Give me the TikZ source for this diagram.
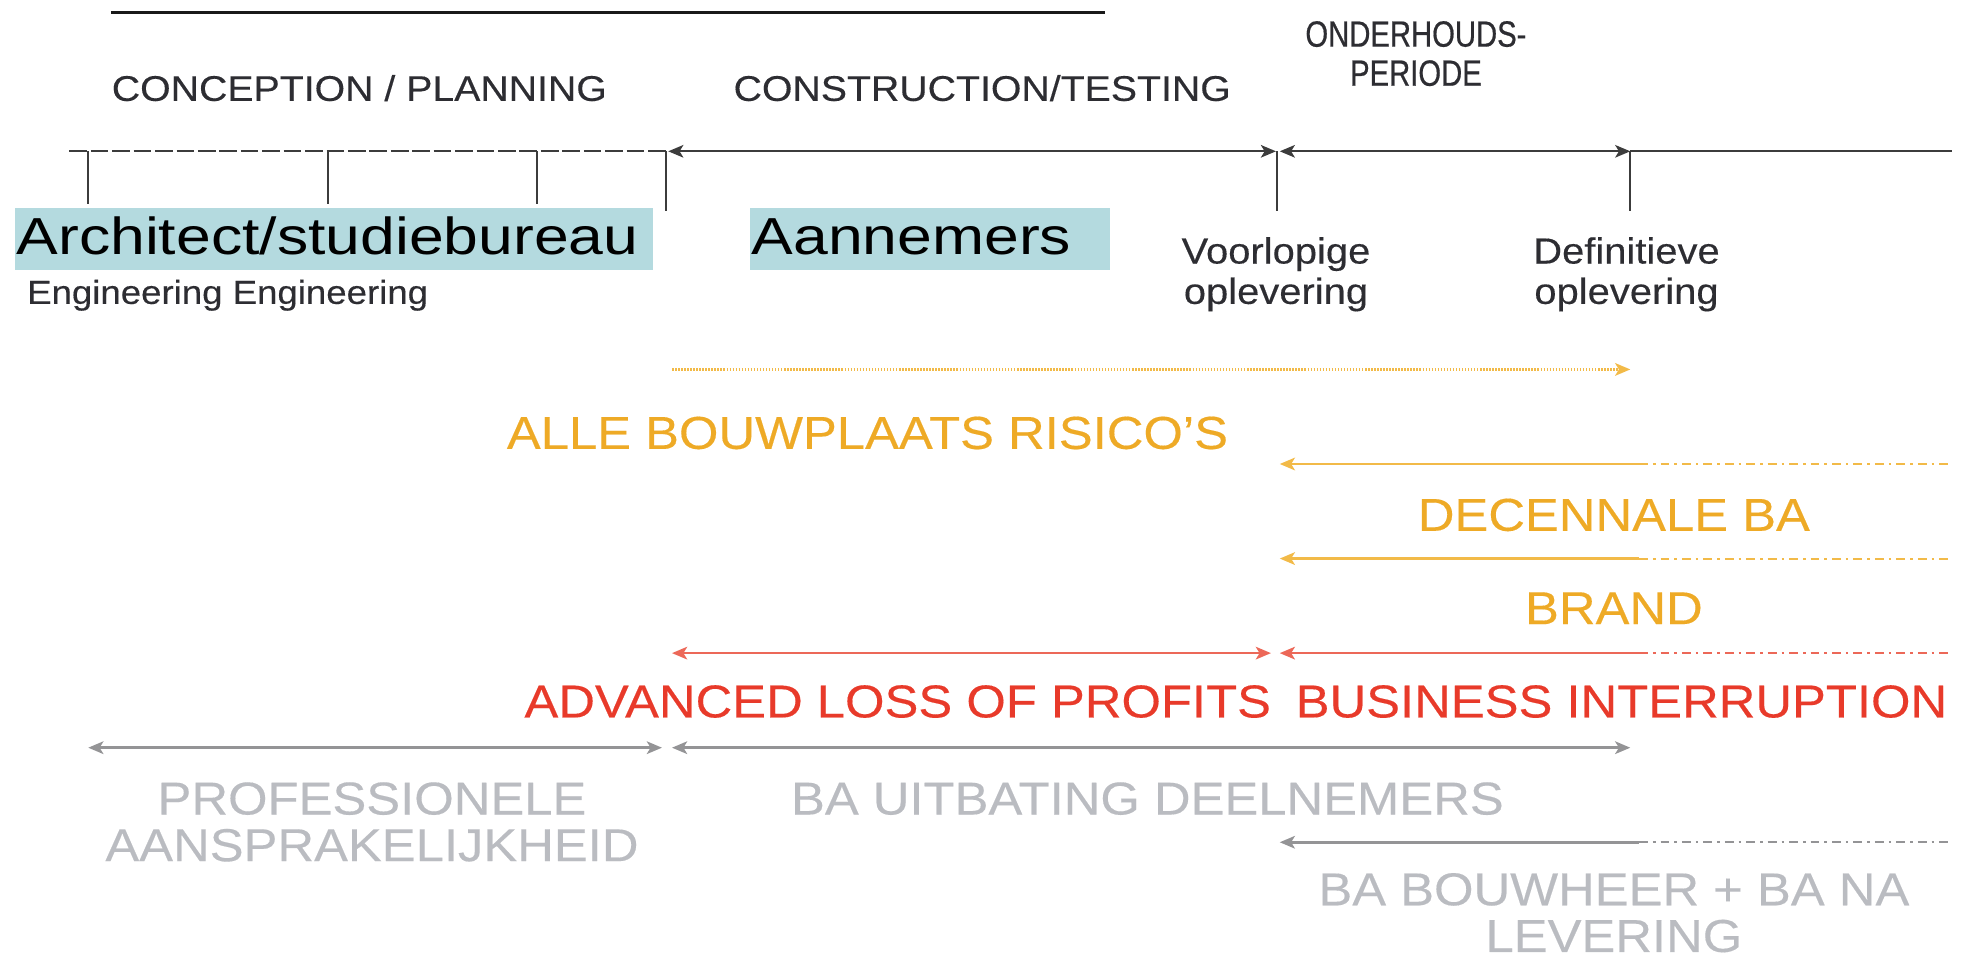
\documentclass[tikz,border=0pt]{standalone}
\usepackage{fontspec}
\setmainfont{Liberation Sans}
\newfontfamily\widefont{Liberation Sans}[FakeStretch=1.2]
\newfontfamily\labelfont{Liberation Sans}[FakeStretch=1.1, FakeBold=0.3]
\newfontfamily\periodfont{Liberation Sans}[FakeStretch=0.8, FakeBold=0.5]
\usetikzlibrary{arrows.meta}
\usetikzlibrary{positioning}

\definecolor{ruleblack}{RGB}{25,25,25}
\definecolor{timegray}{RGB}{60,60,60}
\definecolor{phaseink}{RGB}{45,45,50}
\definecolor{boxteal}{RGB}{180,218,223}
\definecolor{riskorange}{RGB}{238,170,38}
\definecolor{coverorange}{RGB}{242,186,72}
\definecolor{lossred}{RGB}{232,58,42}
\definecolor{coverred}{RGB}{236,104,88}
\definecolor{liabgray}{RGB}{186,188,193}
\definecolor{covergray}{RGB}{148,148,150}

\tikzset {
  >={Stealth[length = 12pt, width = 10pt, inset = 3pt]},
  % rule above the phases
  top rule/.style = {
    draw = ruleblack,
    line width = 2.5pt
  },
  % timeline
  phase line/.style = {
    draw = timegray,
    line width = 1.5pt
  },
  plan dash/.style = {
    dash pattern = on 14pt off 3pt
  },
  phase tick/.style = {
    draw = timegray,
    line width = 1.3pt
  },
  % insurance cover lines
  cover/.style = {
    draw = #1,
    line width = 2pt
  },
  car dots/.style = {
    dash pattern = on 1.2pt off 1.2pt
  },
  open end/.style = {
    line width = 1.5pt,
    dash pattern = on 7pt off 4pt on 2pt off 4pt
  }
}
\tikzset {
  phase/.style = {
    anchor = base,
    text = phaseink,
    font = \labelfont\fontsize{28.3}{30}\selectfont
  },
  % multi-line labels sit on the baseline of their last line
  period/.style = {
    anchor = base,
    align = center,
    text = phaseink,
    font = \periodfont\fontsize{29}{31}\selectfont
  },
  % parties in the coloured boxes
  party/.style = {
    anchor = north west,
    fill = boxteal,
    inner xsep = 1pt,
    inner ysep = 0pt,
    text height = 37pt,
    text depth = 12pt,
    align = left,
    font = \widefont\fontsize{41.3}{44}\selectfont
  },
  milestone/.style = {
    anchor = base,
    align = center,
    text = phaseink,
    font = \labelfont\fontsize{28.8}{32}\selectfont
  },
  risk/.style = {
    anchor = base,
    text = #1,
    font = \labelfont\fontsize{36.6}{37}\selectfont
  }
}

\begin{document}
\begin{tikzpicture}[x = 1pt, y = -1pt]
    \useasboundingbox (0,0) rectangle (1568,761);

    % phases
    \coordinate (rule-left) at (88,10);
    \coordinate (rule-right) at (876,10);
    \draw[top rule] (rule-left) -- (rule-right);
    \node[phase] (conception) at (285,80) {CONCEPTION / PLANNING};
    \node[phase] (construction) at (779,80) {CONSTRUCTION/TESTING};
    \node[period] (onderhoud) at (1123,68) {ONDERHOUDS-\\PERIODE};

    % timeline
    \coordinate (plan-start) at (55,120);
    \coordinate (eng-1) at (70,120);
    \coordinate (eng-2) at (260,120);
    \coordinate (eng-3) at (426,120);
    \coordinate (bouw) at (528,120);
    \coordinate (voorlopig) at (1013,120);
    \coordinate (definitief) at (1293,120);
    \coordinate (plan-end) at (1548,120);

    \draw[phase line, plan dash] (plan-start) -- (bouw);
    \foreach \t in {eng-1, eng-2, eng-3}
      \draw[phase tick] (\t) -- ++(0,42);
    \foreach \t in {bouw, voorlopig, definitief}
      \draw[phase tick] (\t) -- ++(0,47);
    \draw[phase line, <->] ([xshift = 2pt]bouw) -- ([xshift = -1pt]voorlopig);
    \draw[phase line, <->] ([xshift = 2pt]voorlopig) -- (definitief);
    \draw[phase line] (definitief) -- (plan-end);

    \node[party, text width = 504pt] (architect) at (12,165) {Architect/studiebureau};
    \node[party, text width = 283pt] (aannemers) at (595,165) {Aannemers};
    \node[milestone, anchor = base west, font = \labelfont\fontsize{26.4}{28}\selectfont] (engineering) at (18,241) {Engineering Engineering};
    \node[milestone] (vo-label) at (1012,241) {Voorlopige\\oplevering};
    \node[milestone] (do-label) at (1290,241) {Definitieve\\oplevering};

    % construction all risks
    \coordinate (car-start) at (533,293);
    \coordinate (car-end) at (1293,293);
    \draw[cover = coverorange, car dots, ->] (car-start) -- (car-end);
    \node[risk = riskorange] (car) at (688,356) {ALLE BOUWPLAATS RISICO’S};

    % covers running on after the handover
    \foreach \row/\ypos/\col in {decennaal/368/coverorange, brandrisk/443/coverorange, interruption/518/coverred, bouwheer/668/covergray} {
      \coordinate (\row-start) at (1015,\ypos);
      \coordinate (\row-open) at (1300,\ypos);
      \coordinate (\row-end) at (1548,\ypos);
      \draw[cover = \col, <-] (\row-start) -- (\row-open);
      \draw[cover = \col, open end] (\row-open) -- (\row-end);
    }
    \node[risk = riskorange] (decennale) at (1280,421) {DECENNALE BA};
    \node[risk = riskorange] (brand) at (1280,495) {BRAND};

    % loss of profits
    \coordinate (alp-start) at (533,518);
    \coordinate (alp-end) at (1008,518);
    \draw[cover = coverred, <->] (alp-start) -- (alp-end);
    \node[risk = lossred] (alp) at (712,569) {ADVANCED LOSS OF PROFITS};
    \node[risk = lossred] (bi) at (1286,569) {BUSINESS INTERRUPTION};

    % liability
    \coordinate (pa-start) at (70,593);
    \coordinate (pa-end) at (525,593);
    \coordinate (bau-start) at (533,593);
    \coordinate (bau-end) at (1293,593);
    \draw[cover = covergray, <->] (pa-start) -- (pa-end);
    \draw[cover = covergray, <->] (bau-start) -- (bau-end);
    \node[risk = liabgray, align = center] (pa) at (295,683) {PROFESSIONELE\\AANSPRAKELIJKHEID};
    \node[risk = liabgray] (bau) at (910,646) {BA UITBATING DEELNEMERS};
    \node[risk = liabgray, align = center] (bouwheer) at (1280,755) {BA BOUWHEER + BA NA\\LEVERING};
  \end{tikzpicture}
\end{document}
